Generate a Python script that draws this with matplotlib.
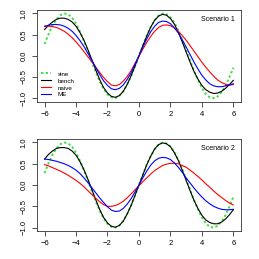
import numpy as np
import matplotlib
matplotlib.use("Agg")
import matplotlib.pyplot as plt

plt.rcParams['font.family'] = ['Liberation Sans', 'DejaVu Sans']

# x grid the curves were read at (step 0.25)
x = [-6.0, -5.75, -5.5, -5.25, -5.0, -4.75, -4.5, -4.25, -4.0, -3.75, -3.5, -3.25,
     -3.0, -2.75, -2.5, -2.25, -2.0, -1.75, -1.5, -1.25, -1.0, -0.75, -0.5, -0.25,
     0.0, 0.25, 0.5, 0.75, 1.0, 1.25, 1.5, 1.75, 2.0, 2.25, 2.5, 2.75, 3.0, 3.25,
     3.5, 3.75, 4.0, 4.25, 4.5, 4.75, 5.0, 5.25, 5.5, 5.75, 6.0]

# true curve (same in both panels)
sine = [0.28, 0.51, 0.71, 0.86, 0.96, 1.00, 0.98, 0.90, 0.76, 0.57, 0.35, 0.11,
        -0.14, -0.38, -0.60, -0.78, -0.91, -0.98, -1.00, -0.95, -0.84, -0.68, -0.48, -0.25,
        0.00, 0.25, 0.48, 0.68, 0.84, 0.95, 1.00, 0.98, 0.91, 0.78, 0.60, 0.38, 0.14, -0.11,
        -0.35, -0.57, -0.76, -0.90, -0.98, -1.00, -0.96, -0.86, -0.71, -0.51, -0.28]

# scenario 1
bench1 = [0.62, 0.72, 0.80, 0.86, 0.89, 0.89, 0.86, 0.80, 0.70, 0.55, 0.37, 0.15,
          -0.09, -0.33, -0.56, -0.75, -0.88, -0.96, -0.98, -0.94, -0.84, -0.68, -0.47, -0.24,
          0.00, 0.24, 0.47, 0.68, 0.84, 0.94, 0.98, 0.96, 0.88, 0.75, 0.56, 0.33, 0.09, -0.15,
          -0.37, -0.55, -0.70, -0.80, -0.86, -0.89, -0.88, -0.84, -0.77, -0.68, -0.58]
naive1 = [0.69, 0.70, 0.69, 0.67, 0.63, 0.58, 0.51, 0.43, 0.33, 0.22, 0.10, -0.02,
          -0.14, -0.27, -0.39, -0.51, -0.61, -0.69, -0.71, -0.68, -0.60, -0.49, -0.35, -0.18,
          -0.01, 0.16, 0.32, 0.46, 0.58, 0.67, 0.72, 0.73, 0.71, 0.66, 0.58, 0.48, 0.37, 0.24,
          0.11, -0.02, -0.15, -0.27, -0.38, -0.48, -0.57, -0.63, -0.67, -0.69, -0.68]
me1 = [0.70, 0.72, 0.74, 0.74, 0.73, 0.70, 0.65, 0.58, 0.48, 0.36, 0.22, 0.06,
       -0.10, -0.27, -0.44, -0.59, -0.70, -0.78, -0.80, -0.77, -0.69, -0.56, -0.40, -0.20,
       0.00, 0.21, 0.40, 0.57, 0.70, 0.79, 0.82, 0.81, 0.76, 0.66, 0.54, 0.38, 0.21, 0.03,
       -0.15, -0.31, -0.46, -0.57, -0.66, -0.71, -0.73, -0.73, -0.71, -0.69, -0.66]

# scenario 2
bench2 = [0.61, 0.72, 0.80, 0.86, 0.88, 0.88, 0.86, 0.80, 0.70, 0.55, 0.36, 0.14,
          -0.10, -0.34, -0.57, -0.76, -0.89, -0.97, -0.99, -0.95, -0.85, -0.68, -0.48, -0.24,
          0.00, 0.24, 0.48, 0.68, 0.85, 0.95, 0.99, 0.97, 0.90, 0.76, 0.58, 0.35, 0.11, -0.13,
          -0.36, -0.55, -0.71, -0.82, -0.88, -0.91, -0.91, -0.87, -0.80, -0.70, -0.58]
naive2 = [0.48, 0.45, 0.41, 0.37, 0.33, 0.28, 0.23, 0.17, 0.11, 0.04, -0.04, -0.13,
          -0.22, -0.31, -0.39, -0.46, -0.50, -0.50, -0.48, -0.44, -0.38, -0.30, -0.21, -0.11,
          -0.02, 0.08, 0.17, 0.26, 0.34, 0.40, 0.46, 0.49, 0.51, 0.51, 0.50, 0.46, 0.42, 0.35,
          0.28, 0.20, 0.12, 0.03, -0.05, -0.14, -0.22, -0.29, -0.36, -0.42, -0.47]
me2 = [0.61, 0.60, 0.58, 0.56, 0.53, 0.50, 0.46, 0.41, 0.35, 0.27, 0.17, 0.06,
       -0.06, -0.18, -0.30, -0.41, -0.51, -0.59, -0.62, -0.61, -0.55, -0.45, -0.32, -0.16,
       0.00, 0.17, 0.33, 0.47, 0.57, 0.63, 0.65, 0.64, 0.60, 0.52, 0.42, 0.30, 0.17, 0.05,
       -0.07, -0.18, -0.28, -0.37, -0.44, -0.50, -0.54, -0.57, -0.58, -0.58, -0.57]

labels = ["sine", "bench", "naive", "ME"]
xticks = [-6, -4, -2, 0, 2, 4, 6]
yticks = [-1.0, -0.5, 0.0, 0.5, 1.0]

fig = plt.figure(figsize=(2.59, 2.59), dpi=100)
ax1 = fig.add_axes([0.143, 0.608, 0.787, 0.353])
ax2 = fig.add_axes([0.143, 0.108, 0.787, 0.355])

panels = [(ax1, bench1, naive1, me1, "Scenario 1"),
          (ax2, bench2, naive2, me2, "Scenario 2")]

for ax, bench, naive, me, title in panels:
    ax.plot(x, sine, color='#44dd44', lw=1.4, ls=(0, (1.2, 1.2)), label=labels[0])
    ax.plot(x, bench, color='black', lw=0.8, label=labels[1])
    ax.plot(x, naive, color='red', lw=0.8, label=labels[2])
    ax.plot(x, me, color='blue', lw=0.8, label=labels[3])
    ax.set_xlim(-6.48, 6.48)
    ax.set_ylim(-1.08, 1.08)
    ax.set_xticks(xticks)
    ax.set_yticks(yticks)
    ax.set_xticklabels([str(t).replace('-', '\u2212') for t in xticks])
    ax.set_yticklabels([f"{t:.1f}".replace('-', '\u2212') for t in yticks],
                       rotation=90, va='center')
    ax.tick_params(labelsize=5.5, length=3.6, width=0.6, color='#333333')
    ax.tick_params(axis='x', pad=3.0)
    ax.tick_params(axis='y', pad=3.2)
    for s in ax.spines.values():
        s.set_linewidth(0.6)
        s.set_color('#333333')
    ax.text(0.97, 0.9, title, transform=ax.transAxes, ha='right', va='center',
            fontsize=5)

ax1.legend(loc='lower left', frameon=False, fontsize=4.5, handlelength=1.6,
           labelspacing=0.25, borderaxespad=0.25, handletextpad=1.0)

fig.savefig("out.png", dpi=100)
